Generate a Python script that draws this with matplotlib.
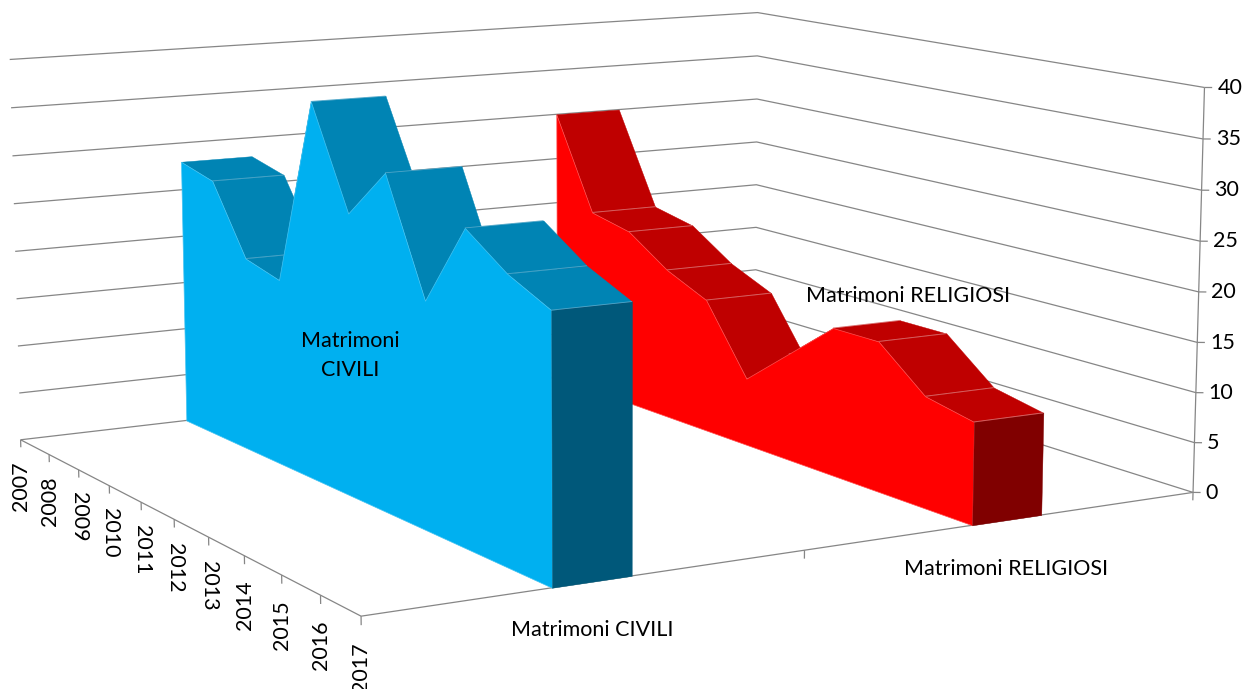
import matplotlib
matplotlib.use('Agg')
import matplotlib.pyplot as plt
from mpl_toolkits.mplot3d.art3d import Poly3DCollection

plt.rcParams['font.family'] = ['Lato', 'DejaVu Sans']

# dati
anni = list(range(2007, 2018))
civili = [28, 27, 20, 19, 38, 28, 33, 22, 30, 27, 25]
religiosi = [30, 20, 19, 16, 14, 7, 11, 15, 15, 11, 10]
tick_valori = [0, 5, 10, 15, 20, 25, 30, 35, 40]
nome_civili = 'Matrimoni CIVILI'
nome_religiosi = 'Matrimoni RELIGIOSI'

# camera e riquadro, stimati dalla figura
W, H = 1246, 689
cx, cy = 570.99, 287.82
FS = 15.5
GRIGIO = '#868686'

fig = plt.figure(figsize=(W/100, H/100), dpi=100, facecolor='white')
ax = fig.add_subplot(projection='3d', computed_zorder=False)
ax.set_position([(cx-W/2)/W, 1-(cy+W/2)/H, 1, W/H])
ax.set_xlim(2007, 2017)
ax.set_ylim(0, 1)
ax.set_zlim(0, 40)
ax.view_init(10.007, -29.8363, 0.066)
ax.set_proj_type('persp', focal_length=0.545)
ax.set_box_aspect((1, 1.1361, 0.4996), zoom=0.9899)
ax.set_axis_off()


def linea(xs, ys, zs, colore=GRIGIO, lw=0.9, z=1):
    ax.plot(xs, ys, zs, color=colore, lw=lw, zorder=z, clip_on=False, solid_capstyle='butt')


# griglia sulle due pareti
for v in tick_valori:
    linea([2007, 2007, 2017], [0, 1, 1], [v, v, v])

# assi e tacche
linea([2007, 2017, 2017], [0, 0, 1], [0, 0, 0])
linea([2017, 2017], [1, 1], [0, 40])
for a in anni:
    linea([a, a], [0, 0], [0, -0.8])
for s in [0.5, 1]:
    linea([2017, 2017], [s, s], [0, -0.8])
for v in tick_valori:
    linea([2017, 2017.05], [1, 1.0068], [v, v])

zo = 10


def serie(valori, y0, y1, fronte, sopra, fine, bordo, riga):
    global zo
    # facce superiori, dal fondo verso chi guarda
    for i in range(len(anni)-1):
        q = [(anni[i], y0, valori[i]), (anni[i], y1, valori[i]),
             (anni[i+1], y1, valori[i+1]), (anni[i+1], y0, valori[i+1])]
        ax.add_collection3d(Poly3DCollection([q], facecolor=sopra, edgecolor=sopra, linewidth=0.3, zorder=zo), autolim=False)
        zo += 1
        if i > 0:
            linea([anni[i], anni[i]], [y0, y1], [valori[i], valori[i]], riga, 0.6, zo)
            zo += 1
    # faccia davanti
    f = [(anni[0], y0, 0)] + [(a, y0, v) for a, v in zip(anni, valori)] + [(anni[-1], y0, 0)]
    ax.add_collection3d(Poly3DCollection([f], facecolor=fronte, edgecolor=bordo, linewidth=0.5, zorder=zo), autolim=False)
    zo += 1
    # chiusura a destra
    c = [(anni[-1], y0, 0), (anni[-1], y1, 0), (anni[-1], y1, valori[-1]), (anni[-1], y0, valori[-1])]
    ax.add_collection3d(Poly3DCollection([c], facecolor=fine, edgecolor=fine, linewidth=0.3, zorder=zo), autolim=False)
    zo += 1
    linea([anni[-1], anni[-1]], [y0, y1], [valori[-1], valori[-1]], riga, 0.6, zo)
    zo += 1


serie(religiosi, 0.708, 0.797, '#FF0000', '#BF0000', '#800000', '#FF5050', '#D86A6A')
serie(civili, 0.207, 0.297, '#00B0F0', '#0084B4', '#00587A', '#45C4F3', '#4FA6C8')

# etichette
for a in anni:
    # Text3D ricava la rotazione da zdir e la riporta in (-90, 90]: deve restare sotto 90
    inclina = 0.00033 - 0.000017*(a-2007)
    ax.text(a, 0, -2.3, str(a), zdir=(0, inclina, 1), ha='center', va='top', fontsize=FS, zorder=900)
for v in tick_valori:
    ax.text(2017.085, 1.0113, v, str(v), ha='left', va='center', fontsize=FS, zorder=900)
ax.text(2017, 0.252, -4.45, nome_civili, ha='center', va='center', fontsize=FS, zorder=900)
ax.text(2017, 0.7525, -4.75, nome_religiosi, ha='center', va='center', fontsize=FS, zorder=900)
ax.text(2012, 0.207, 14, 'Matrimoni\nCIVILI', ha='center', va='center', fontsize=FS, zorder=900, linespacing=1.58)
ax.text(2015.62, 0.708, 20.3, nome_religiosi, ha='center', va='center', fontsize=FS, zorder=900)

fig.savefig('out.png', dpi=100)
